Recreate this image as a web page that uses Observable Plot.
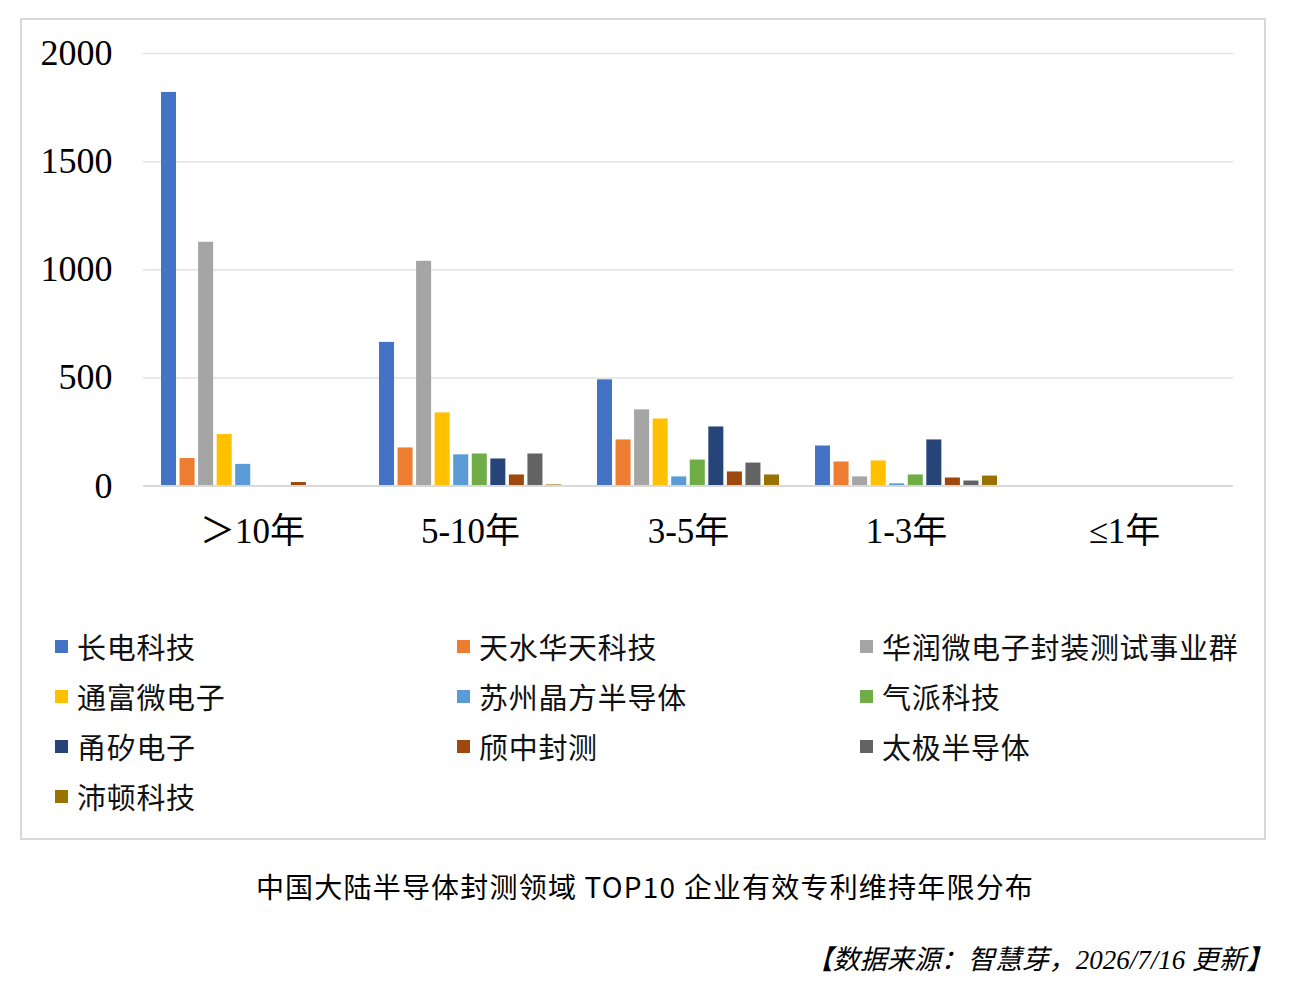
<!DOCTYPE html>
<html>
<head>
<meta charset="utf-8">
<script src="https://cdn.jsdelivr.net/npm/d3@7"></script>
<script src="https://cdn.jsdelivr.net/npm/@observablehq/plot@0.6"></script>
<style>
  html, body { margin: 0; padding: 0; background: #fff; }
  body { width: 1290px; height: 992px; position: relative; overflow: hidden; }
  #box { position: absolute; left: 20px; top: 18px; width: 1242px; height: 818px; border: 2px solid #d9d9d9; }
  #chart { position: absolute; left: 0; top: 0; }
  #legend { position: absolute; left: 33px; top: 601px; width: 1210px; display: grid; grid-template-columns: 402px 403px 405px; row-gap: 0; }
  .item { display: flex; align-items: center; height: 50px; font-family: "Noto Sans CJK SC", sans-serif; font-size: 29px; letter-spacing: 0.7px; color: #111; white-space: nowrap; }
  .sw { width: 13px; height: 13px; margin-right: 9px; flex: none; }
  #title { position: absolute; left: 0; width: 1290px; top: 866px; text-align: center; font-family: "Noto Sans CJK SC", sans-serif; font-size: 28px; letter-spacing: 1.2px; color: #000; }
  #source { position: absolute; right: 17px; top: 938px; font-family: "Liberation Serif", "Noto Sans CJK SC", serif; font-style: italic; font-size: 27px; color: #000; }
</style>
</head>
<body>
<div id="box">
  <div id="chart"></div>
  <div id="legend"></div>
</div>
<div id="title">中国大陆半导体封测领域 TOP10 企业有效专利维持年限分布</div>
<div id="source">【数据来源：智慧芽，2026/7/16 更新】</div>
<script>
// Categories (patent maintenance years)
const years = ["＞10年", "5-10年", "3-5年", "1-3年", "≤1年"];
// Companies (series)
const companies = ["长电科技", "天水华天科技", "华润微电子封装测试事业群", "通富微电子", "苏州晶方半导体", "气派科技", "甬矽电子", "颀中封测", "太极半导体", "沛顿科技"];
const colors = ["#4472C4", "#ED7D31", "#A5A5A5", "#FFC000", "#5B9BD5", "#70AD47", "#264478", "#9E480E", "#636363", "#997300"];
// Series values, in order of years
const changdian = [1820, 664, 491, 185, 0];
const tianshui  = [127, 176, 213, 111, 1];
const huarun    = [1127, 1039, 352, 42, 0];
const tongfu    = [238, 338, 310, 116, 1];
const jingfang  = [100, 144, 42, 10, 0];
const qipai     = [1, 148, 120, 51, 0];
const yongsi    = [0, 125, 273, 213, 0];
const qizhong   = [16, 51, 65, 37, 0];
const taiji     = [1, 148, 106, 23, 1];
const peidun    = [0, 5, 51, 46, 1];
const yTicks = [0, 500, 1000, 1500, 2000];

const series = [changdian, tianshui, huarun, tongfu, jingfang, qipai, yongsi, qizhong, taiji, peidun];
const rows = companies.flatMap((c, i) => years.map((y, j) => ({year: y, company: c, value: series[i][j]})));

const plot = Plot.plot({
  width: 1242,
  height: 590,
  marginTop: 33,
  marginBottom: 124.5,
  marginLeft: 121,
  marginRight: 31,
  style: {fontFamily: "'Liberation Serif', 'Noto Sans CJK SC', serif", color: "#000", background: "transparent"},
  fx: {domain: years, padding: 0, label: null, round: false},
  x: {domain: companies, paddingInner: 0.19, paddingOuter: 0.97, axis: null, round: false},
  y: {domain: [0, 2000], label: null},
  color: {domain: companies, range: colors},
  marks: [
    Plot.ruleY(yTicks.filter(d => d > 0), {stroke: "#e2e2e2", strokeWidth: 1.5}),
    Plot.barY(rows, {fx: "year", x: "company", y: "value", fill: "company"}),
    Plot.ruleY([0], {stroke: "#d9d9d9", strokeWidth: 2}),
    Plot.axisY({ticks: yTicks, tickSize: 0, tickPadding: 31, fontSize: 36, label: null, tickFormat: d => String(d)}),
    Plot.axisFx({anchor: "bottom", tickSize: 0, tickPadding: 32, fontSize: 35, label: null})
  ]
});
document.getElementById("chart").appendChild(plot);

const legend = document.getElementById("legend");
companies.forEach((c, i) => {
  const item = document.createElement("div");
  item.className = "item";
  const sw = document.createElement("span");
  sw.className = "sw";
  sw.style.background = colors[i];
  item.appendChild(sw);
  item.appendChild(document.createTextNode(c));
  legend.appendChild(item);
});
</script>
</body>
</html>
